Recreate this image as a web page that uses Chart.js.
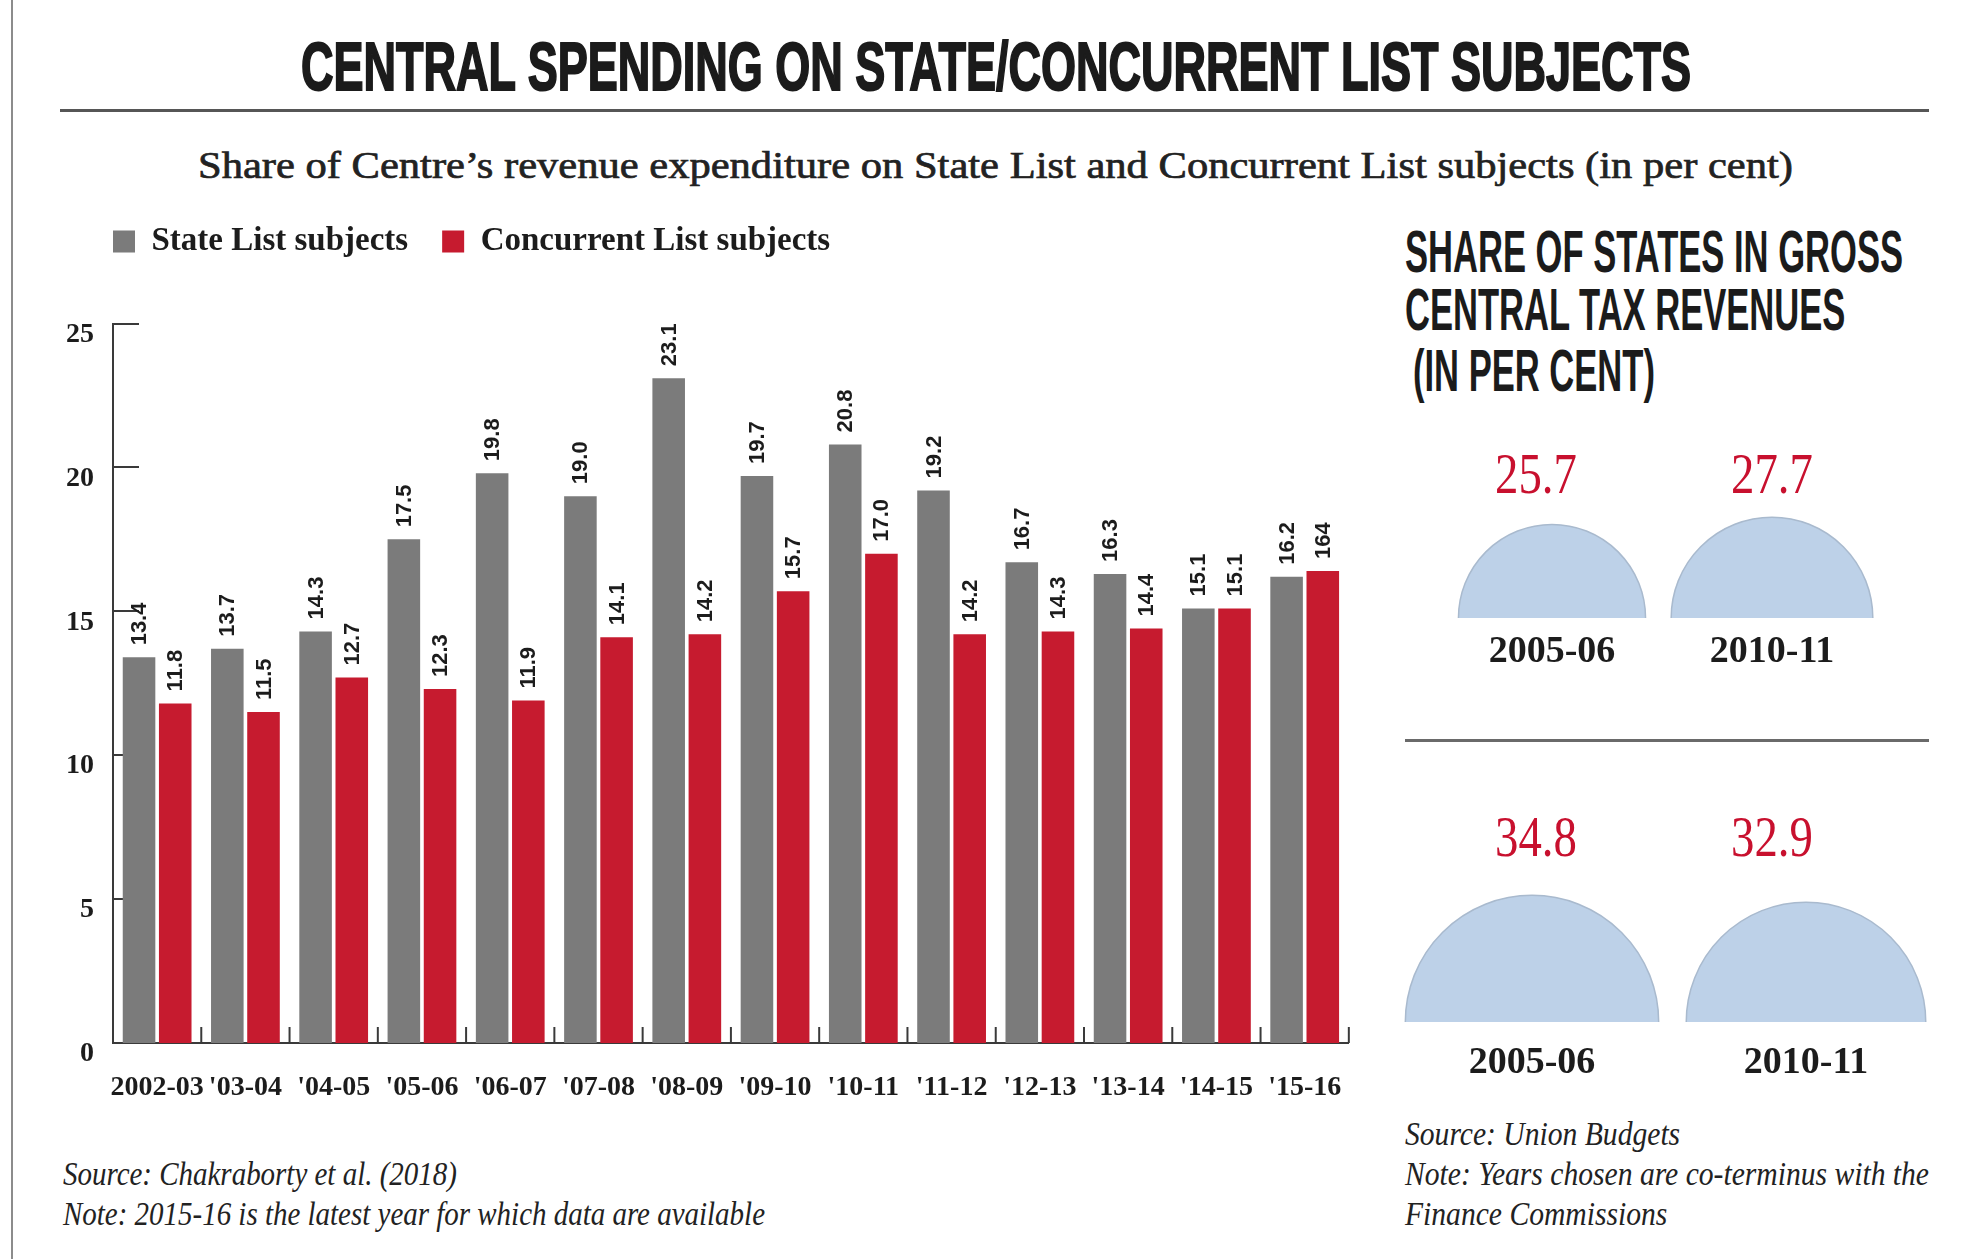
<!DOCTYPE html>
<html>
<head>
<meta charset="utf-8">
<title>Central spending on State/Concurrent List subjects</title>
<script src="https://cdn.jsdelivr.net/npm/chart.js@4.4.1/dist/chart.umd.min.js"></script>
<style>
  html, body { margin:0; padding:0; background:#ffffff; }
  body { width:1966px; height:1259px; position:relative; overflow:hidden; }
  .t { position:absolute; white-space:nowrap; line-height:1; margin:0; left:0; top:0; }
  .narrow { font-family:"Liberation Sans Narrow","Liberation Sans",Arial,sans-serif; font-weight:700; color:#1b1b1b; }
  .heavy { -webkit-text-stroke:2px #1b1b1b; }
  .serif { font-family:"Liberation Serif","Times New Roman",serif; color:#222; }
  .semi { -webkit-text-stroke:0.7px #222; }
  .ital { font-style:italic; }
  .rule { position:absolute; }
  .box { position:absolute; }
  canvas { display:block; }
</style>
</head>
<body>
<div class="rule" style="left:11px;top:0;width:2px;height:1259px;background:#8c8c8c"></div>
<div id="title" class="t narrow heavy" style="font-size:68px">CENTRAL SPENDING ON STATE/CONCURRENT LIST SUBJECTS</div>
<div class="rule" style="left:60px;top:109px;width:1869px;height:3px;background:#565656"></div>
<div id="subtitle" class="t serif semi" style="font-size:38px">Share of Centre’s revenue expenditure on State List and Concurrent List subjects (in per cent)</div>

<div class="box" style="left:0;top:191px;width:1370px;height:912px"><canvas id="mainChart" width="1370" height="912"></canvas></div>

<div id="rt1" class="t narrow" style="font-size:60px">SHARE OF STATES IN GROSS</div>
<div id="rt2" class="t narrow" style="font-size:60px">CENTRAL TAX REVENUES</div>
<div id="rt3" class="t narrow" style="font-size:60px">(IN PER CENT)</div>

<div class="box" style="left:1380px;top:438px;width:586px;height:240px"><canvas id="shareTopChart" width="586" height="240"></canvas></div>
<div class="rule" style="left:1405px;top:739px;width:524px;height:3px;background:#6a6a6a"></div>
<div class="box" style="left:1380px;top:801px;width:586px;height:281px"><canvas id="shareBottomChart" width="586" height="281"></canvas></div>

<div id="ls1" class="t serif ital" style="font-size:33px">Source: Chakraborty et al. (2018)</div>
<div id="ls2" class="t serif ital" style="font-size:33px">Note: 2015-16 is the latest year for which data are available</div>
<div id="rs1" class="t serif ital" style="font-size:33px">Source: Union Budgets</div>
<div id="rs2" class="t serif ital" style="font-size:33px">Note: Years chosen are co-terminus with the</div>
<div id="rs3" class="t serif ital" style="font-size:33px">Finance Commissions</div>

<script>
// ---------------- DATA ----------------
const categories = ["2002-03", "'03-04", "'04-05", "'05-06", "'06-07", "'07-08", "'08-09",
                    "'09-10", "'10-11", "'11-12", "'12-13", "'13-14", "'14-15", "'15-16"];
const stateList      = [13.4, 13.7, 14.3, 17.5, 19.8, 19.0, 23.1, 19.7, 20.8, 19.2, 16.7, 16.3, 15.1, 16.2];
const concurrentList = [11.8, 11.5, 12.7, 12.3, 11.9, 14.1, 14.2, 15.7, 17.0, 14.2, 14.3, 14.4, 15.1, 16.4];
const stateLabels      = ["13.4","13.7","14.3","17.5","19.8","19.0","23.1","19.7","20.8","19.2","16.7","16.3","15.1","16.2"];
const concurrentLabels = ["11.8","11.5","12.7","12.3","11.9","14.1","14.2","15.7","17.0","14.2","14.3","14.4","15.1","164"];
const yMin = 0, yMax = 25, yStep = 5;

const shareYears  = ["2005-06", "2010-11"];
const shareTop    = [25.7, 27.7];
const shareBottom = [34.8, 32.9];

// ---------------- TEXT LAYOUT ----------------
const K_SERIF = 0.8375, K_SANS = 0.8465;
function placeGroup(ids, o) {
  const els = ids.map(id => document.getElementById(id));
  const widths = els.map(e => e.getBoundingClientRect().width);
  const s = o.width / Math.max(...widths);
  els.forEach((e, i) => {
    e.style.transformOrigin = 'left top';
    e.style.transform = 'scaleX(' + s + ')';
    const w = widths[i] * s;
    const left = o.center !== undefined ? o.center - w / 2 : o.left + (o.indent ? o.indent[i] : 0);
    e.style.left = left + 'px';
    e.style.top = (o.baselines[i] - o.k * o.fs) + 'px';
  });
}
placeGroup(['title'], {center: 995.5, width: 1390, baselines: [90], k: K_SANS, fs: 68});
placeGroup(['subtitle'], {center: 995.5, width: 1595, baselines: [178], k: K_SERIF, fs: 38});
placeGroup(['rt1','rt2','rt3'], {left: 1405, indent: [0,0,8], width: 498, baselines: [273, 331, 392], k: K_SANS, fs: 60});
placeGroup(['ls1','ls2'], {left: 63, width: 702, baselines: [1186, 1226], k: K_SERIF, fs: 33});
placeGroup(['rs1','rs2','rs3'], {left: 1405, width: 524, baselines: [1146, 1186, 1226], k: K_SERIF, fs: 33});

// ---------------- CHARTS ----------------
const serifFamily = '"Liberation Serif", "Times New Roman", serif';
const ink = '#1c1c1c';
const axisColor = '#3a3a3a';

const legendFit = {
  id: 'legendFit',
  beforeInit(chart) {
    const lg = chart.legend;
    if (!lg) return;
    const fit = lg.fit;
    lg.fit = function () { fit.call(this); this.height = 132.5; };
  },
  afterLayout(chart) {
    const lg = chart.legend;
    if (!lg) return;
    const shift = chart.chartArea.left - (lg.left + lg.options.labels.padding);
    lg.left += shift; lg.right += shift;
  }
};

const axisMarks = {
  id: 'axisMarks',
  beforeDatasetsDraw(chart) {
    const {ctx, scales: {y}, chartArea} = chart;
    ctx.save();
    ctx.strokeStyle = axisColor; ctx.lineWidth = 2;
    y.ticks.forEach(t => {
      if (t.value === yMin) return;
      const py = Math.round(y.getPixelForValue(t.value));
      ctx.beginPath(); ctx.moveTo(chartArea.left, py); ctx.lineTo(chartArea.left + 26, py); ctx.stroke();
    });
    ctx.restore();
  },
  afterDatasetsDraw(chart) {
    const {ctx, scales: {x}, chartArea} = chart;
    ctx.save();
    ctx.strokeStyle = axisColor; ctx.lineWidth = 2;
    const n = x.ticks.length;
    for (let i = 1; i <= n; i++) {
      const px = i < n ? (x.getPixelForTick(i - 1) + x.getPixelForTick(i)) / 2 : chartArea.right;
      ctx.beginPath(); ctx.moveTo(px, chartArea.bottom); ctx.lineTo(px, chartArea.bottom - 16); ctx.stroke();
    }
    ctx.restore();
  }
};

const barLabels = {
  id: 'barLabels',
  afterDatasetsDraw(chart) {
    const ctx = chart.ctx;
    ctx.save();
    ctx.font = 'bold 22px "Liberation Sans", Arial, sans-serif';
    ctx.fillStyle = ink;
    ctx.textAlign = 'left';
    ctx.textBaseline = 'middle';
    chart.data.datasets.forEach((ds, di) => {
      chart.getDatasetMeta(di).data.forEach((bar, i) => {
        ctx.save();
        ctx.translate(bar.x + 1, bar.y - 12);
        ctx.rotate(-Math.PI / 2);
        ctx.fillText(ds.valueLabels[i], 0, 0);
        ctx.restore();
      });
    });
    ctx.restore();
  }
};

new Chart(document.getElementById('mainChart'), {
  type: 'bar',
  data: {
    labels: categories,
    datasets: [
      {label: 'State List subjects', data: stateList, valueLabels: stateLabels, backgroundColor: '#7b7b7b', borderWidth: 0},
      {label: 'Concurrent List subjects', data: concurrentList, valueLabels: concurrentLabels, backgroundColor: '#c61b2f', borderWidth: 0}
    ]
  },
  options: {
    responsive: false,
    animation: false,
    events: [],
    datasets: {bar: {categoryPercentage: 0.82, barPercentage: 0.9}},
    layout: {padding: {left: 0, right: 18, top: 0, bottom: 0}},
    plugins: {
      legend: {
        display: true, position: 'top', align: 'start', fullSize: false,
        labels: {boxWidth: 22, boxHeight: 22, padding: 34, color: ink,
                 font: {family: serifFamily, weight: 'bold', size: 33}}
      },
      tooltip: {enabled: false},
      title: {display: false}
    },
    scales: {
      x: {
        offset: true,
        grid: {display: false, drawTicks: false},
        border: {display: true, color: axisColor, width: 2},
        ticks: {padding: 28, color: ink, maxRotation: 0, autoSkip: false,
                font: {family: serifFamily, weight: 'bold', size: 28}},
        afterFit(s) { s.height = 60; }
      },
      y: {
        min: yMin, max: yMax,
        grid: {display: false, drawTicks: false},
        border: {display: true, color: axisColor, width: 2},
        ticks: {stepSize: yStep, padding: 19, labelOffset: 11, color: ink,
                font: {family: serifFamily, weight: 'bold', size: 28}},
        afterFit(s) { s.width = 113; }
      }
    }
  },
  plugins: [legendFit, axisMarks, barLabels]
});

const RADIUS_PER_POINT = 3.64;
function makeShareValues(offset, dx) {
  return {
    id: 'shareValues',
    afterDatasetsDraw(chart) {
      const ctx = chart.ctx;
      const ds = chart.data.datasets[0];
      ctx.save();
      ctx.font = '57px ' + serifFamily;
      ctx.fillStyle = '#c8102e';
      ctx.textAlign = 'center';
      ctx.textBaseline = 'middle';
      chart.getDatasetMeta(0).data.forEach((pt, i) => {
        ctx.save();
        ctx.translate(pt.x + dx[i], chart.chartArea.top + offset);
        ctx.scale(0.82, 1);
        ctx.fillText(ds.data[i].v.toFixed(1), 0, 0);
        ctx.restore();
      });
      ctx.restore();
    }
  };
}

function shareChart(canvasId, values, cfg) {
  return new Chart(document.getElementById(canvasId), {
    type: 'bubble',
    data: {
      labels: shareYears,
      datasets: [{
        data: values.map((v, i) => ({x: shareYears[i], y: 0, v: v})),
        backgroundColor: '#bdd1e8',
        borderColor: '#a9bace',
        borderWidth: 1.5,
        radius: c => (c.raw ? c.raw.v * RADIUS_PER_POINT : 0),
        clip: {left: false, right: false, top: false, bottom: 0}
      }]
    },
    options: {
      responsive: false,
      animation: false,
      events: [],
      layout: {autoPadding: false, padding: {left: cfg.padL, right: cfg.padR, top: 0, bottom: 0}},
      plugins: {legend: {display: false}, tooltip: {enabled: false}},
      scales: {
        x: {
          type: 'category', labels: shareYears, offset: true,
          grid: {display: false, drawTicks: false},
          border: {display: false},
          ticks: {padding: cfg.tickPad, color: ink, font: {family: serifFamily, weight: 'bold', size: 38}},
          afterFit(s) { s.height = 60; }
        },
        y: {display: false, min: 0, max: 1}
      }
    },
    plugins: [makeShareValues(40, cfg.labelDx)]
  });
}

shareChart('shareTopChart', shareTop, {padL: 62, padR: 84, tickPad: 11, labelDx: [-16, 0]});
shareChart('shareBottomChart', shareBottom, {padL: 15, padR: 23, tickPad: 18, labelDx: [4, -34]});
</script>
</body>
</html>
